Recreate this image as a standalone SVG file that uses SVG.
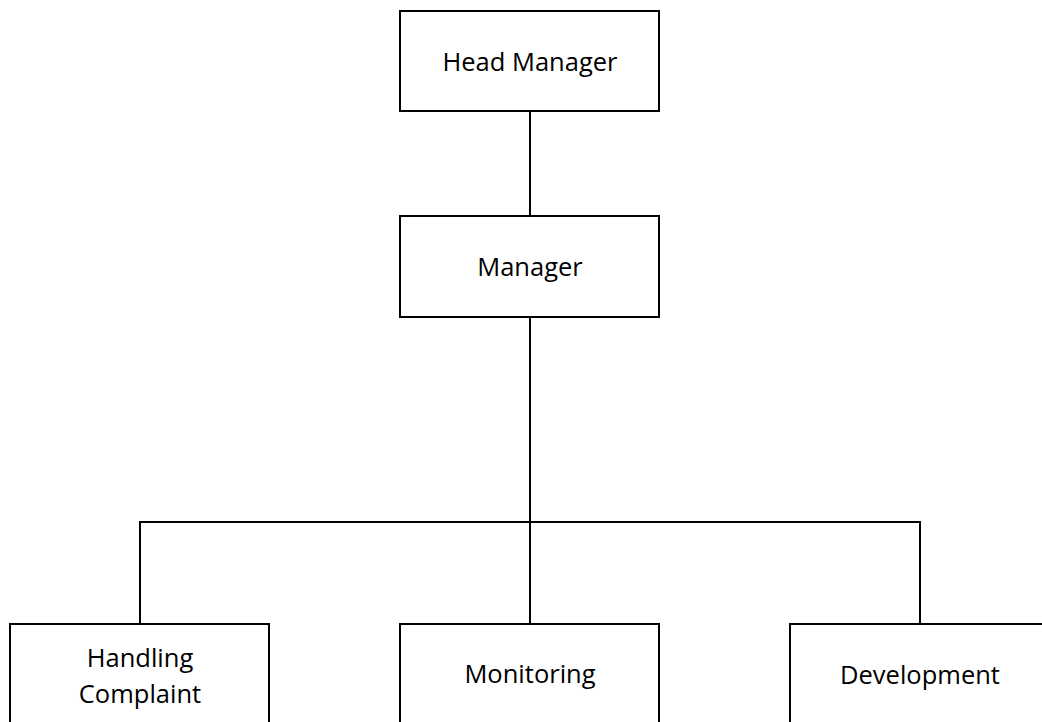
<svg xmlns="http://www.w3.org/2000/svg" width="1042" height="722" viewBox="0 0 1042 722">
<style>
.box{fill:#fff;stroke:#000;stroke-width:2}
.lbl{font-family:"Open Sans","Liberation Sans",sans-serif;font-size:25.5px;fill:#000;text-anchor:middle}
.conn{stroke:#000;stroke-width:2;fill:none}
</style>
<rect width="1042" height="722" fill="#fff"/>
<g id="connectors">
<path class="conn" d="M530 111V216"/>
<path class="conn" d="M530 317V624"/>
<path class="conn" d="M140 624V522H920V624"/>
</g>
<g id="head-manager">
<rect class="box" x="400" y="11" width="259" height="100"/>
<text class="lbl" x="530" y="71">Head Manager</text>
</g>
<g id="manager">
<rect class="box" x="400" y="216" width="259" height="101"/>
<text class="lbl" x="530" y="276">Manager</text>
</g>
<g id="handling-complaint">
<rect class="box" x="10" y="624" width="259" height="110"/>
<text class="lbl" x="140" y="667">Handling</text>
<text class="lbl" x="140" y="703">Complaint</text>
</g>
<g id="monitoring">
<rect class="box" x="400" y="624" width="259" height="110"/>
<text class="lbl" x="530" y="683">Monitoring</text>
</g>
<g id="development">
<rect class="box" x="790" y="624" width="259" height="110"/>
<text class="lbl" x="920" y="684">Development</text>
</g>
</svg>
